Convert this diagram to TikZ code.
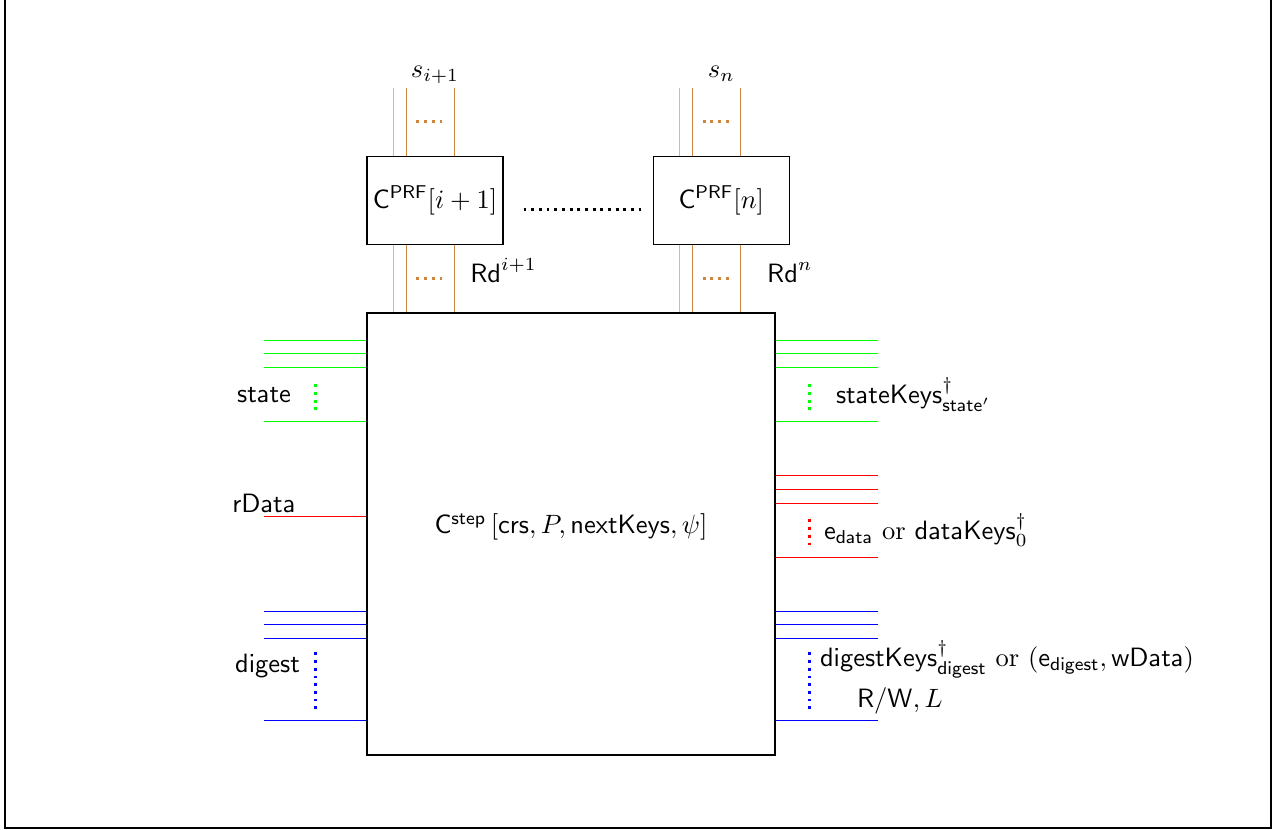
\documentclass[tikz,border=0pt]{standalone}
\usepackage{amsmath, amssymb}
\usepackage{tikz}
\usetikzlibrary{positioning, calc}
\definecolor{peru}{RGB}{205,133,63}
\definecolor{burly}{RGB}{222,184,135}
\definecolor{gwire}{RGB}{0,255,0}
\definecolor{rwire}{RGB}{255,0,0}
\definecolor{bwire}{RGB}{0,0,255}

\begin{document}
\begin{tikzpicture}[node distance=0.9cm and 1.98cm]
    	\tikzstyle{box}=[draw,inner sep=0pt]
    	\tikzstyle{prf}=[box,minimum width=1.805cm,minimum height=1.168cm]
    	\tikzstyle{lbl}=[inner sep=0pt]
    	\tikzstyle{wire}=[line width=0.5pt]
    	\tikzstyle{dts}=[line width=1.1pt,dash pattern=on 1.1pt off 1.8pt]
    \useasboundingbox (-7.577,-3.928) rectangle (9.382,7.086);
    \draw[thick] (-7.511,7.086) |- (9.289,-3.901) -- (9.289,7.086);
    \node[box,minimum width=5.414cm,minimum height=5.865cm] (main) at (0,0) {};
    \node[anchor=base] (mainlbl) at (main.center) {$\mathsf{C}^{\mathsf{step}}\left[\mathsf{crs}, P, \mathsf{nextKeys}, \psi\right]$};
    \node[prf,above right=0.9cm and 0cm of main.north west] (prf1) {$\mathsf{C}^{\mathsf{PRF}}[i+1]$};
    \node[prf,right=of prf1] (prf2) {$\mathsf{C}^{\mathsf{PRF}}[n]$};
    \draw[dts] ([xshift=0.265cm,yshift=-0.12cm]prf1.east) -- ([xshift=-0.15cm,yshift=-0.12cm]prf2.west);
    % wires of the PRF circuits
    \foreach \b/\s/\r in {prf1/s_{i+1}/i+1, prf2/s_n/n}{
      \foreach \x/\c [count=\k] in {0.358/burly,0.531/peru,1.168/peru}{
        \coordinate (\b t\k) at ([xshift=\x cm]\b.north west);
        \coordinate (\b b\k) at ([xshift=\x cm]\b.south west);
        \draw[wire,draw=\c] (\b t\k) -- ++(0,0.9);
        \draw[wire,draw=\c] (\b b\k) -- (\b b\k |- main.north);
      }
      \draw[dts,peru] ([shift={(0.664,0.451)}]\b.north west) -- ++(0.36,0);
      \draw[dts,peru] ([shift={(0.664,-0.451)}]\b.south west) -- ++(0.36,0);
      \node[anchor=base] (\b s) at ([yshift=1.04cm]\b.north) {$\s$};
      \node[anchor=base] (\b rd) at ([yshift=-0.504cm]\b.south east) {$\mathsf{Rd}^{\r}$};
    }
    % inputs and outputs of the step circuit
    \foreach \y/\c in {0.372/gwire,0.544/gwire,0.730/gwire,1.446/gwire,2.707/rwire,3.968/bwire,4.140/bwire,4.326/bwire,5.414/bwire}
      \draw[wire,draw=\c] ([yshift=-\y cm]main.north west) -- ++(-1.36,0);
    \foreach \y/\c in {0.372/gwire,0.544/gwire,0.730/gwire,1.446/gwire,2.163/rwire,2.349/rwire,2.535/rwire,3.251/rwire,3.968/bwire,4.140/bwire,4.326/bwire,5.414/bwire}
      \draw[wire,draw=\c] ([yshift=-\y cm]main.north east) -- ++(1.36,0);
    \draw[dts,gwire] ([shift={(-0.677,-0.955)}]main.north west) -- ++(0,-0.345);
    \draw[dts,bwire] ([shift={(-0.677,-4.512)}]main.north west) -- ++(0,-0.76);
    \draw[dts,gwire] ([shift={(0.451,-0.955)}]main.north east) -- ++(0,-0.345);
    \draw[dts,rwire] ([shift={(0.451,-2.747)}]main.north east) -- ++(0,-0.345);
    \draw[dts,bwire] ([shift={(0.451,-4.512)}]main.north east) -- ++(0,-0.76);
    \node[lbl,anchor=base east] (statein) at ([shift={(-0.995,-1.194)}]main.north west) {$\mathsf{state}$};
    \node[lbl,anchor=base] (rdatain) at ([shift={(-1.36,-2.654)}]main.north west) {$\mathsf{rData}$};
    \node[lbl,anchor=base east] (digestin) at ([shift={(-0.876,-4.777)}]main.north west) {$\mathsf{digest}$};
    \node[lbl,anchor=base west] (stateout) at ([shift={(0.796,-1.208)}]main.north east) {$\mathsf{stateKeys}^{\dagger}_{\mathsf{state}'}$};
    \node[lbl,anchor=base west] (dataout) at ([shift={(0.637,-3.012)}]main.north east) {$\mathsf{e}_{\mathsf{data}}$ or $\mathsf{dataKeys}^{\dagger}_{0}$};
    \node[lbl,anchor=base west] (digestout) at ([shift={(0.584,-4.698)}]main.north east) {$\mathsf{digestKeys}^{\dagger}_{\mathsf{digest}}$ or $(\mathsf{e}_{\mathsf{digest}}, \mathsf{wData})$};
    \node[lbl,anchor=base west] (rwout) at ([shift={(1.075,-5.242)}]main.north east) {$\mathsf{R/W}, L$};
  \end{tikzpicture}
\end{document}
